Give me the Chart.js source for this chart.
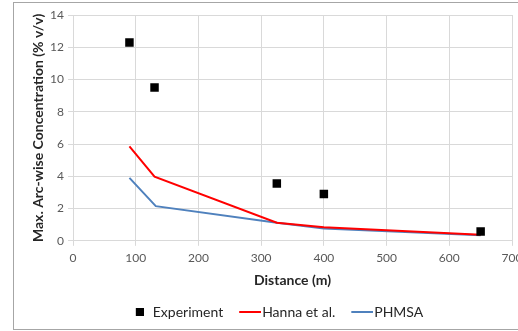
<!DOCTYPE html>
<html>
<head>
<meta charset="utf-8">
<script src="https://cdn.jsdelivr.net/npm/chart.js@4/dist/chart.umd.min.js"></script>
<style>
  html, body { margin: 0; padding: 0; background: #ffffff; }
  #wrap { position: relative; width: 518px; height: 331px; overflow: hidden; }
  canvas { display: block; }
</style>
</head>
<body>
<div id="wrap"><canvas id="c" width="518" height="331"></canvas></div>
<script>
// ---- Data ----
const experimentX = [90, 130, 325, 400, 650];
const experimentY = [12.3, 9.5, 3.55, 2.9, 0.58];
const hannaX = [90, 130, 325, 400, 650];
const hannaY = [5.85, 3.98, 1.12, 0.84, 0.38];
const phmsaX = [90, 132, 325, 400, 650];
const phmsaY = [3.9, 2.15, 1.12, 0.76, 0.34];
const seriesNames = ['Experiment', 'Hanna et al.', 'PHMSA'];
const xTickValues = [0, 100, 200, 300, 400, 500, 600, 700];
const yTickValues = [0, 2, 4, 6, 8, 10, 12, 14];
const xTitle = 'Distance (m)';
const yTitle = 'Max. Arc-wise Concentration (% v/v)';

const toPts = (xs, ys) => xs.map((x, i) => ({ x: x, y: ys[i] }));

// legend symbol images
function makeLineImg(color) {
  const c = document.createElement('canvas');
  c.width = 28; c.height = 4;
  const g = c.getContext('2d');
  g.fillStyle = color;
  g.fillRect(6, 1, 22, 2);
  return c;
}
function makeSquareImg(color) {
  const c = document.createElement('canvas');
  c.width = 12; c.height = 8;
  const g = c.getContext('2d');
  g.fillStyle = color;
  g.fillRect(4, 0, 8, 8);
  return c;
}
const RED = '#ff0000';
const BLUE = '#4f81bd';
const legendImgs = [makeSquareImg('#000000'), makeLineImg(RED), makeLineImg(BLUE)];

const frame = {
  id: 'frame',
  beforeDraw(chart) {
    const ctx = chart.ctx;
    ctx.save();
    ctx.strokeStyle = '#a6a6a6';
    ctx.lineWidth = 1;
    ctx.strokeRect(13.5, 2.5, 600, 327);
    ctx.restore();
  },
  afterLayout(chart) {
    if (chart.legend) { chart.legend.left += 9; chart.legend.right += 9; }
  }
};

new Chart(document.getElementById('c'), {
  type: 'scatter',
  data: {
    datasets: [
      {
        label: seriesNames[0],
        data: toPts(experimentX, experimentY),
        pointStyle: 'rect',
        pointRadius: 6,
        pointHoverRadius: 6,
        backgroundColor: '#000000',
        borderColor: '#000000',
        borderWidth: 0,
        showLine: false
      },
      {
        label: seriesNames[1],
        data: toPts(hannaX, hannaY),
        showLine: true,
        borderColor: RED,
        backgroundColor: RED,
        borderWidth: 2,
        pointRadius: 0,
        tension: 0
      },
      {
        label: seriesNames[2],
        data: toPts(phmsaX, phmsaY),
        showLine: true,
        borderColor: BLUE,
        backgroundColor: BLUE,
        borderWidth: 2,
        pointRadius: 0,
        tension: 0
      }
    ]
  },
  options: {
    responsive: false,
    animation: false,
    layout: { padding: { left: 22, top: 15, right: 5, bottom: 2 } },
    plugins: {
      tooltip: { enabled: false },
      legend: {
        position: 'bottom',
        labels: {
          usePointStyle: true,
          pointStyleWidth: 16,
          padding: 16,
          color: '#262626',
          font: { family: 'Lato', size: 14 },
          generateLabels(chart) {
            return chart.data.datasets.map((ds, i) => ({
              text: ds.label,
              pointStyle: legendImgs[i],
              fillStyle: ds.backgroundColor,
              strokeStyle: ds.borderColor,
              lineWidth: 0,
              hidden: false,
              datasetIndex: i,
              fontColor: '#262626'
            }));
          }
        }
      }
    },
    scales: {
      x: {
        type: 'linear',
        min: 0, max: 700,
        afterBuildTicks(s) { s.ticks = xTickValues.map(v => ({ value: v })); },
        afterFit(s) { s.paddingLeft = 0; s.paddingRight = 0; },
        ticks: {
          color: '#595959',
          font: { family: 'Lato', size: 12 },
          padding: 5,
          maxRotation: 0,
          autoSkip: false
        },
        grid: { color: '#d9d9d9', lineWidth: 1, tickLength: 5 },
        border: { color: '#d9d9d9' },
        title: {
          display: true,
          text: xTitle,
          color: '#262626',
          font: { family: 'Lato', size: 14, weight: 'bold' },
          padding: { top: 2, bottom: 0 }
        }
      },
      y: {
        min: 0, max: 14,
        afterBuildTicks(s) { s.ticks = yTickValues.map(v => ({ value: v })); },
        afterFit(s) { s.width = 51; },
        ticks: {
          color: '#595959',
          font: { family: 'Lato', size: 12 },
          padding: 4
        },
        grid: { color: '#d9d9d9', lineWidth: 1, tickLength: 5 },
        border: { color: '#d9d9d9' },
        title: {
          display: true,
          text: yTitle,
          color: '#262626',
          font: { family: 'Lato', size: 14, weight: 'bold' },
          padding: { top: 8, bottom: 4 }
        }
      }
    }
  },
  plugins: [frame]
});
</script>
</body>
</html>
